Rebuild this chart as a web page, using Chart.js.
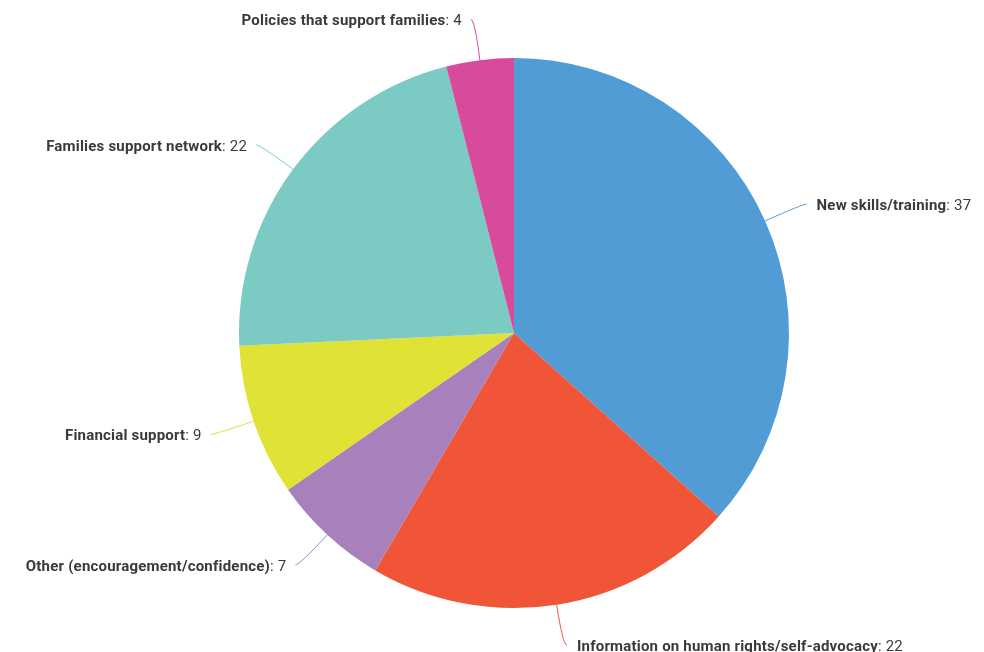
<!DOCTYPE html>
<html>
<head>
<meta charset="utf-8">
<script src="https://cdn.jsdelivr.net/npm/chart.js@4"></script>
<style>
  html, body { margin: 0; padding: 0; background: #fff; }
  #wrap { width: 984px; height: 652px; position: relative; }
</style>
</head>
<body>
<div id="wrap"><canvas id="pie"></canvas></div>
<script>
const categories = [
  "New skills/training",
  "Information on human rights/self-advocacy",
  "Other (encouragement/confidence)",
  "Financial support",
  "Families support network",
  "Policies that support families",
];
const values = [37, 22, 7, 9, 22, 4];
const colors = ["#529cd6", "#ef5536", "#a880bc", "#e0e236", "#7bcac3", "#d84a9b"];

const FONT = "Roboto, 'Noto Sans', sans-serif";
const SIZE = 15;

// labels outside the pie, joined to each slice by a curved tick
const outsideLabels = {
  id: "outsideLabels",
  afterDatasetsDraw(chart) {
    const ctx = chart.ctx;
    const arcs = chart.getDatasetMeta(0).data;
    ctx.save();
    ctx.letterSpacing = "0.2px";
    arcs.forEach((arc, i) => {
      const { x, y, outerRadius, startAngle, endAngle } = arc.getProps(
        ["x", "y", "outerRadius", "startAngle", "endAngle"], true);
      const mid = (startAngle + endAngle) / 2;
      const dx = Math.cos(mid), dy = Math.sin(mid);
      const right = dx >= 0;
      const sx = x + dx * outerRadius, sy = y + dy * outerRadius;
      const cx = x + dx * (outerRadius + 41), cy = y + dy * (outerRadius + 41);
      const ex = cx + (right ? 4 : -4), ey = cy;

      ctx.strokeStyle = colors[i];
      ctx.lineWidth = 1;
      ctx.beginPath();
      ctx.moveTo(sx, sy);
      ctx.quadraticCurveTo(cx, cy, ex, ey);
      ctx.stroke();

      const name = categories[i];
      const val = ": " + values[i];
      ctx.textBaseline = "middle";
      ctx.font = "bold " + SIZE + "px " + FONT;
      const wName = ctx.measureText(name).width;
      ctx.font = SIZE + "px " + FONT;
      const wVal = ctx.measureText(val).width;
      const tx = right ? ex + 10 : ex - 9 - wName - wVal;
      const ty = ey + 2;
      ctx.fillStyle = "#3a3a3a";
      ctx.textAlign = "left";
      ctx.font = "bold " + SIZE + "px " + FONT;
      ctx.fillText(name, tx, ty);
      ctx.font = SIZE + "px " + FONT;
      ctx.fillText(val, tx + wName, ty);
    });
    ctx.restore();
  },
};

new Chart(document.getElementById("pie"), {
  type: "pie",
  data: {
    labels: categories,
    datasets: [{
      data: values,
      backgroundColor: colors,
      borderWidth: 0,
    }],
  },
  options: {
    responsive: true,
    maintainAspectRatio: false,
    animation: false,
    layout: { padding: { top: 58, bottom: 44, left: 239, right: 195 } },
    plugins: {
      legend: { display: false },
      tooltip: { enabled: false },
    },
  },
  plugins: [outsideLabels],
});
</script>
</body>
</html>
